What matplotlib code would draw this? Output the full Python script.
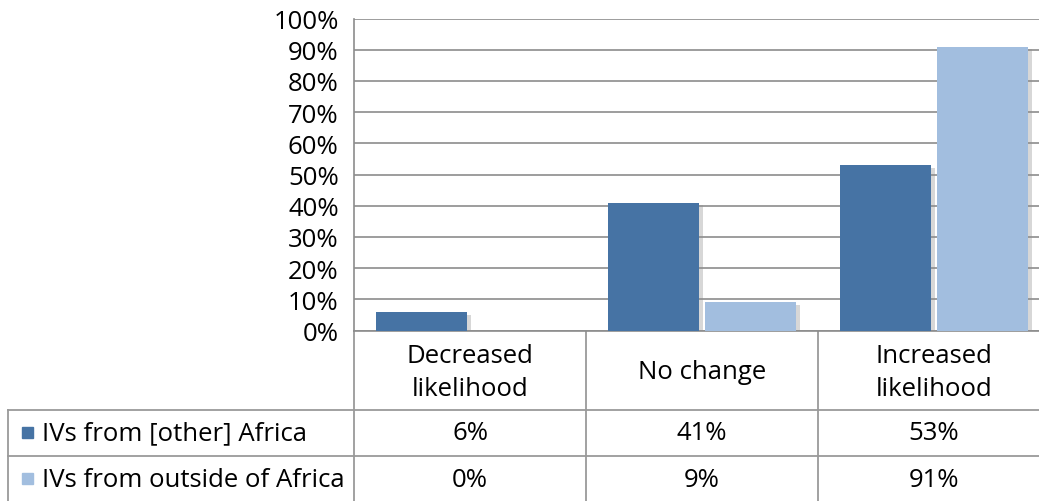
import matplotlib
matplotlib.use("Agg")
import matplotlib.pyplot as plt
import matplotlib.patheffects as pe
import numpy as np

categories = ["Decreased\nlikelihood", "No change", "Increased\nlikelihood"]
series_names = ["IVs from [other] Africa", "IVs from outside of Africa"]
africa = [6, 41, 53]
outside = [0, 9, 91]
yticks = list(range(0, 101, 10))

dark = "#4673a4"
light = "#a2bedf"
grid_col = "#8c8c8c"
line_col = "#9a9a9a"

plt.rcParams["font.family"] = ["Open Sans", "DejaVu Sans"]
fs = 18.5

W, H = 1039, 502
fig = plt.figure(figsize=(W / 100, H / 100), dpi=100)

# plot area in pixel units (top-origin)
left_px, right_px, top_px, bot_px = 354, 1050, 19.5, 331.5
ax = fig.add_axes([left_px / W, 1 - bot_px / H,
                   (right_px - left_px) / W, (bot_px - top_px) / H])

x = np.arange(len(categories))
w = 0.392
shadow = [pe.SimplePatchShadow(offset=(3, -2), shadow_rgbFace="#8f8f8f", alpha=0.35), pe.Normal()]
ax.bar(x - 0.208, africa, w, color=dark, zorder=3, path_effects=shadow)
ax.bar(x + 0.208, outside, w, color=light, zorder=3, path_effects=shadow)

ax.set_xlim(-0.5, len(categories) - 0.5)
ax.set_ylim(0, 100)
ax.set_yticks(yticks)
ax.set_yticklabels([f"{v}%" for v in yticks], fontsize=fs)
ax.tick_params(axis="y", length=0, pad=11)
ax.set_xticks([])
ax.yaxis.grid(True, color=grid_col, linewidth=1.2, zorder=0)
ax.set_axisbelow(True)
for s in ["top", "right"]:
    ax.spines[s].set_visible(False)
ax.spines["left"].set_color(grid_col)
ax.spines["bottom"].set_color(grid_col)
ax.spines["left"].set_linewidth(1.2)
ax.spines["bottom"].set_linewidth(1.2)

# data table below the plot, drawn on an overlay in pixel coordinates
tab = fig.add_axes([0, 0, 1, 1], zorder=-1)
tab.set_xlim(0, W)
tab.set_ylim(H, 0)
tab.axis("off")

col_w = (right_px - left_px) / len(categories)
row_top = 410.5
row_h = 46.5
label_left = 8

edges = [left_px + i * col_w for i in range(len(categories) + 1)]
for e in edges:
    tab.plot([e, e], [bot_px, H + 5], color=line_col, lw=1.3)
tab.plot([label_left, label_left], [row_top, H + 5], color=line_col, lw=1.3)
for r in range(len(series_names)):
    yy = row_top + r * row_h
    tab.plot([label_left, right_px], [yy, yy], color=line_col, lw=1.3)

for i, c in enumerate(categories):
    cx = left_px + (i + 0.5) * col_w
    tab.text(cx, (bot_px + row_top) / 2 + 2, c, ha="center", va="center",
             fontsize=fs, linespacing=1.42)

for r, (name, vals, col) in enumerate(zip(series_names, [africa, outside], [dark, light])):
    cy = row_top + (r + 0.5) * row_h
    tab.add_patch(plt.Rectangle((22, cy - 6), 11, 11, color=col))
    tab.text(42, cy, name, ha="left", va="center", fontsize=fs)
    for i, v in enumerate(vals):
        cx = left_px + (i + 0.5) * col_w
        tab.text(cx, cy, f"{v}%", ha="center", va="center", fontsize=fs)

fig.savefig("out.png", dpi=100, facecolor="white")
